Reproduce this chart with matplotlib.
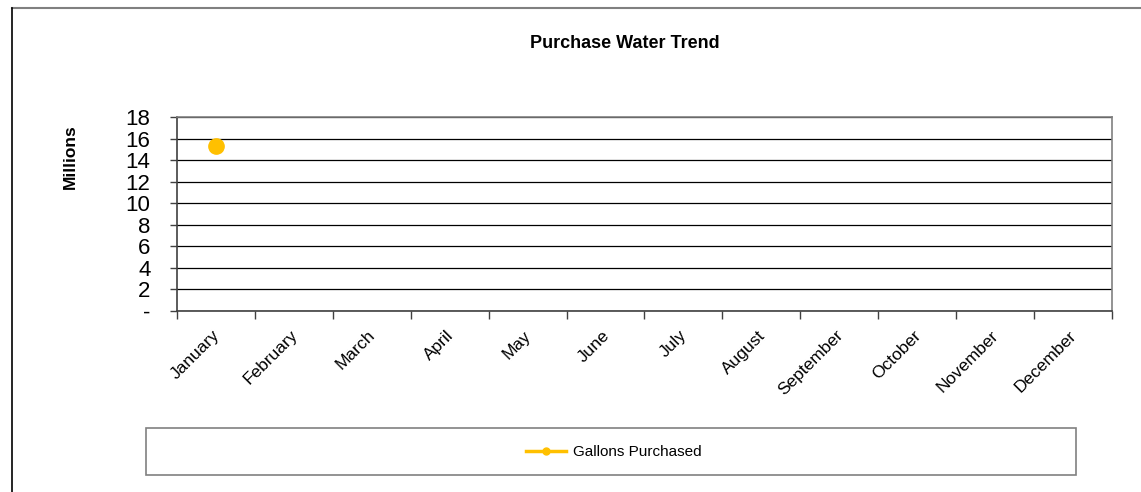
import numpy as np
import matplotlib.pyplot as plt
import matplotlib.transforms as mtransforms
from matplotlib.patches import Rectangle
from matplotlib.lines import Line2D

plt.rcParams['font.family'] = ['Liberation Sans', 'DejaVu Sans']

months = ['January', 'February', 'March', 'April', 'May', 'June', 'July',
          'August', 'September', 'October', 'November', 'December']
gallons = [15.3, np.nan, np.nan, np.nan, np.nan, np.nan, np.nan,
           np.nan, np.nan, np.nan, np.nan, np.nan]
yticks = [0, 2, 4, 6, 8, 10, 12, 14, 16, 18]
ylabels = ['-', '2', '4', '6', '8', '10', '12', '14', '16', '18']

fig = plt.figure(figsize=(11.41, 4.92), dpi=100)
ax = fig.add_axes([0.1551, 0.3679, 0.8195, 0.3943])

x = np.arange(len(months))
ax.plot(x, gallons, color='#FFC000', marker='o', markersize=11,
        linewidth=2.5, label='Gallons Purchased')

ax.set_xlim(-0.5, len(months) - 0.5)
ax.set_ylim(0, 18)
ax.set_yticks(yticks)
ax.set_yticklabels(ylabels, fontsize=16)
ax.yaxis.grid(True, color='black', linewidth=0.9)
ax.set_axisbelow(True)

ax.set_xticks(x)
ax.set_xticklabels(months, rotation=45, fontsize=12.5, ha='right',
                   rotation_mode='anchor')
ax.set_xticks(np.arange(-0.5, len(months)), minor=True)
ax.tick_params(axis='x', which='major', length=0, pad=12)
ax.tick_params(axis='x', which='minor', length=6, width=1, color='#404040',
               direction='out')
ax.tick_params(axis='y', length=5, width=1, color='#404040', pad=14)
shift = mtransforms.ScaledTranslation(-4 / 100, 0, fig.dpi_scale_trans)
for lbl in ax.get_xticklabels():
    lbl.set_transform(lbl.get_transform() + shift)

ax.spines['left'].set_color('#404040')
ax.spines['bottom'].set_color('#404040')
ax.spines['top'].set_color('#808080')
ax.spines['right'].set_color('#808080')
for s in ax.spines.values():
    s.set_linewidth(1.2)

fig.text(70 / 1141, 1 - 157 / 492, 'Millions', fontsize=12.5,
         fontweight='bold', rotation=90, ha='center', va='center')
fig.text(625 / 1141, 1 - 43 / 492, 'Purchase Water Trend', fontsize=13,
         fontweight='bold', ha='center', va='center')

# legend box below the chart
fig.patches.append(Rectangle((146 / 1141, 1 - 475 / 492), 930 / 1141,
                             47 / 492, transform=fig.transFigure,
                             facecolor='white', edgecolor='#808080',
                             linewidth=1.2))
handle = Line2D([], [], color='#FFC000', marker='o', markersize=5,
                linewidth=2.5)
fig.legend([handle], ['Gallons Purchased'], loc='center',
           bbox_to_anchor=(614 / 1141, 1 - 452 / 492), frameon=False,
           fontsize=11, handlelength=2.6, handletextpad=0.5)

# outer chart frame
fig.add_artist(Line2D([12 / 1141, 1], [1 - 8 / 492, 1 - 8 / 492],
                      transform=fig.transFigure, color='#808080', lw=1.5))
fig.add_artist(Line2D([12 / 1141, 12 / 1141], [0, 1 - 8 / 492],
                      transform=fig.transFigure, color='black', lw=1.2))

fig.savefig('out.png', dpi=100)
